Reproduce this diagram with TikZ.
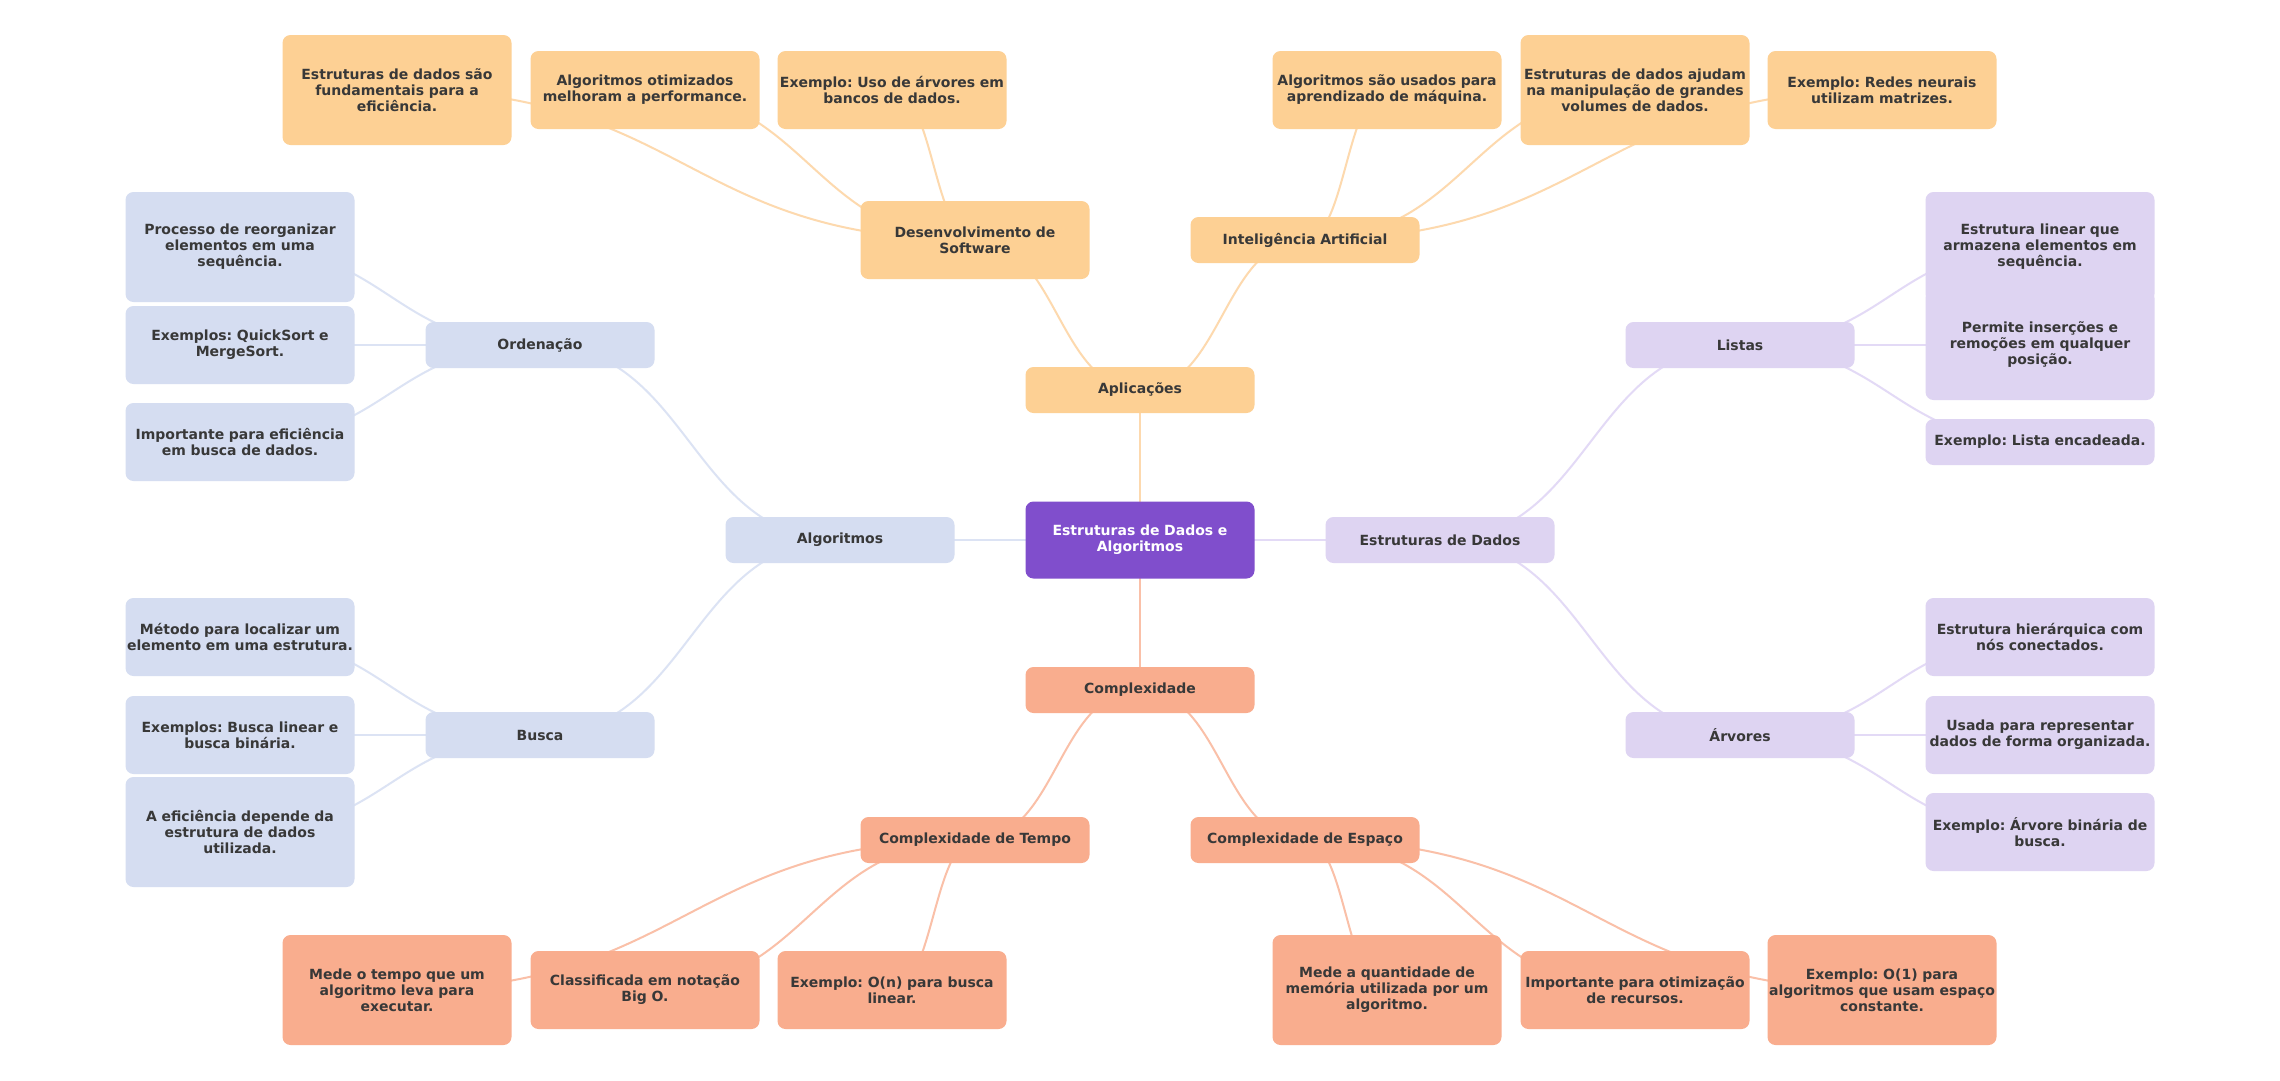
\documentclass[tikz,border=0pt]{standalone}
\usepackage{fontspec}
\setmainfont{DejaVu Sans}
\frenchspacing
\usetikzlibrary{calc}
\definecolor{txt}{HTML}{383838}
\definecolor{orgF}{HTML}{FDD094}
\definecolor{orgE}{HTML}{FDD9AE}
\definecolor{bluF}{HTML}{D5DDF1}
\definecolor{bluE}{HTML}{DCE3F4}
\definecolor{lavF}{HTML}{DED4F2}
\definecolor{lavE}{HTML}{E3DAF6}
\definecolor{salF}{HTML}{F9AD8E}
\definecolor{salE}{HTML}{FAC0A8}
\definecolor{purF}{HTML}{804ECC}
\pgfdeclarelayer{paper}
\pgfdeclarelayer{bg}
\pgfsetlayers{paper,bg,main}
\tikzset{
  mmbox/.style={rounded corners=8pt, text width=229pt, inner xsep=0pt, inner ysep=0pt,
    align=center, text=txt, font=\fontsize{14pt}{16pt}\selectfont\bfseries},
  hA/.style={minimum height=46pt},
  hB/.style={minimum height=78pt},
  hC/.style={minimum height=110pt},
  orgbox/.style={mmbox, fill=orgF},
  blubox/.style={mmbox, fill=bluF},
  lavbox/.style={mmbox, fill=lavF},
  salbox/.style={mmbox, fill=salF},
  rootbox/.style={mmbox, fill=purF, text=white, minimum height=77pt},
  orgln/.style={draw=orgE, line width=2pt},
  bluln/.style={draw=bluE, line width=2pt},
  lavln/.style={draw=lavE, line width=2pt},
  salln/.style={draw=salE, line width=2pt},
}
\newcommand\mmlink[3]{\draw[#1] let \p1=(#2.center), \p2=(#3.center) in
  (\p1) .. controls ({0.5*\x1+0.5*\x2},\y1) and ({0.5*\x1+0.5*\x2},\y2) .. (\p2);}
\begin{document}
\begin{tikzpicture}[x=1pt,y=-1pt]
\begin{pgfonlayer}{paper}
\fill[white] (0,0) rectangle (2280,1080);
\end{pgfonlayer}
\useasboundingbox (0,0) rectangle (2280,1080);
% root and level 1
\node[rootbox] (root) at (1140,540) {Estruturas de Dados e\\Algoritmos};
\node[orgbox,hA] (apl) at (1140,390) {Aplicações};
\node[blubox,hA] (alg) at (840,540) {Algoritmos};
\node[lavbox,hA] (est) at (1440,540) {Estruturas de Dados};
\node[salbox,hA] (cpx) at (1140,690) {Complexidade};
% level 2
\node[orgbox,hB] (dev) at (975,240) {Desenvolvimento de\\Software};
\node[orgbox,hA] (ia) at (1305,240) {Inteligência Artificial};
\node[blubox,hA] (ord) at (540,345) {Ordenação};
\node[blubox,hA] (bus) at (540,735) {Busca};
\node[lavbox,hA] (lis) at (1740,345) {Listas};
\node[lavbox,hA] (arv) at (1740,735) {Árvores};
\node[salbox,hA] (tmp) at (975,840) {Complexidade de Tempo};
\node[salbox,hA] (esp) at (1305,840) {Complexidade de Espaço};
% leaves: Desenvolvimento
\node[orgbox,hC] (dev1) at (397,90) {Estruturas de dados são\\fundamentais para a\\eficiência.};
\node[orgbox,hB] (dev2) at (645,90) {Algoritmos otimizados\\melhoram a performance.};
\node[orgbox,hB] (dev3) at (892,90) {Exemplo: Uso de árvores em\\bancos de dados.};
% leaves: IA
\node[orgbox,hB] (ia1) at (1387,90) {Algoritmos são usados para\\aprendizado de máquina.};
\node[orgbox,hC] (ia2) at (1635,90) {Estruturas de dados ajudam\\na manipulação de grandes\\volumes de dados.};
\node[orgbox,hB] (ia3) at (1882,90) {Exemplo: Redes neurais\\utilizam matrizes.};
% leaves: Ordenação
\node[blubox,hC] (ord1) at (240,247) {Processo de reorganizar\\elementos em uma\\sequência.};
\node[blubox,hB] (ord2) at (240,345) {Exemplos: QuickSort e\\MergeSort.};
\node[blubox,hB] (ord3) at (240,442) {Importante para eficiência\\em busca de dados.};
% leaves: Busca
\node[blubox,hB] (bus1) at (240,637) {Método para localizar um\\elemento em uma estrutura.};
\node[blubox,hB] (bus2) at (240,735) {Exemplos: Busca linear e\\busca binária.};
\node[blubox,hC] (bus3) at (240,832) {A eficiência depende da\\estrutura de dados\\utilizada.};
% leaves: Listas
\node[lavbox,hC] (lis1) at (2040,247) {Estrutura linear que\\armazena elementos em\\sequência.};
\node[lavbox,hC] (lis2) at (2040,345) {Permite inserções e\\remoções em qualquer\\posição.};
\node[lavbox,hA] (lis3) at (2040,442) {Exemplo: Lista encadeada.};
% leaves: Árvores
\node[lavbox,hB] (arv1) at (2040,637) {Estrutura hierárquica com\\nós conectados.};
\node[lavbox,hB] (arv2) at (2040,735) {Usada para representar\\dados de forma organizada.};
\node[lavbox,hB] (arv3) at (2040,832) {Exemplo: Árvore binária de\\busca.};
% leaves: Tempo
\node[salbox,hC] (tmp1) at (397,990) {Mede o tempo que um\\algoritmo leva para\\executar.};
\node[salbox,hB] (tmp2) at (645,990) {Classificada em notação\\Big O.};
\node[salbox,hB] (tmp3) at (892,990) {Exemplo: O(n) para busca\\linear.};
% leaves: Espaço
\node[salbox,hC] (esp1) at (1387,990) {Mede a quantidade de\\memória utilizada por um\\algoritmo.};
\node[salbox,hB] (esp2) at (1635,990) {Importante para otimização\\de recursos.};
\node[salbox,hC] (esp3) at (1882,990) {Exemplo: O(1) para\\algoritmos que usam espaço\\constante.};
% connectors
\begin{pgfonlayer}{bg}
\mmlink{orgln}{root}{apl}
\mmlink{bluln}{root}{alg}
\mmlink{lavln}{root}{est}
\mmlink{salln}{root}{cpx}
\mmlink{orgln}{apl}{dev}
\mmlink{orgln}{apl}{ia}
\mmlink{bluln}{alg}{ord}
\mmlink{bluln}{alg}{bus}
\mmlink{lavln}{est}{lis}
\mmlink{lavln}{est}{arv}
\mmlink{salln}{cpx}{tmp}
\mmlink{salln}{cpx}{esp}
\foreach \c in {dev1,dev2,dev3} {\mmlink{orgln}{dev}{\c}}
\foreach \c in {ia1,ia2,ia3} {\mmlink{orgln}{ia}{\c}}
\foreach \c in {ord1,ord2,ord3} {\mmlink{bluln}{ord}{\c}}
\foreach \c in {bus1,bus2,bus3} {\mmlink{bluln}{bus}{\c}}
\foreach \c in {lis1,lis2,lis3} {\mmlink{lavln}{lis}{\c}}
\foreach \c in {arv1,arv2,arv3} {\mmlink{lavln}{arv}{\c}}
\foreach \c in {tmp1,tmp2,tmp3} {\mmlink{salln}{tmp}{\c}}
\foreach \c in {esp1,esp2,esp3} {\mmlink{salln}{esp}{\c}}
\end{pgfonlayer}
\end{tikzpicture}
\end{document}
